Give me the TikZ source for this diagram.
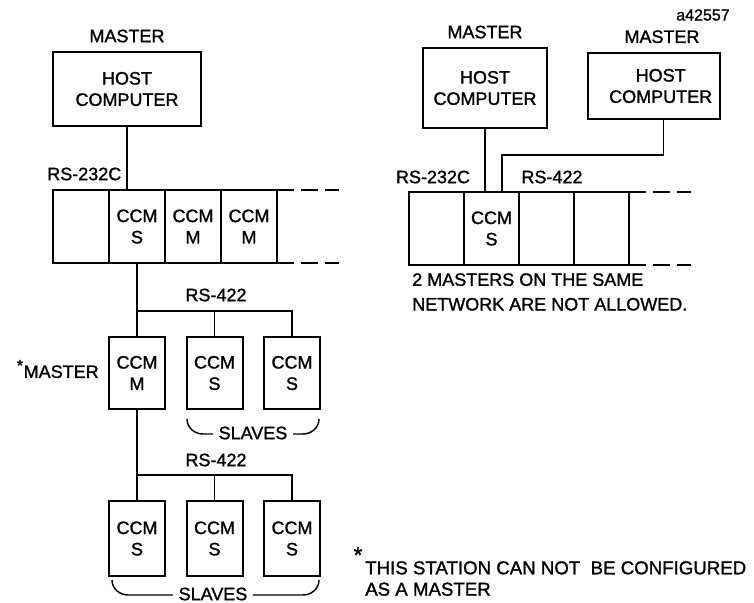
\documentclass[tikz,border=0pt]{standalone}
\usepackage{fontspec}
\setmainfont{Liberation Sans}[FakeBold=1.3]
\usetikzlibrary{positioning, calc}

\tikzset{
    box/.style={draw, line width=1.5pt, align=center, inner sep=0pt, outer sep=0pt},
    slotbox/.style={box, minimum width=42pt, minimum height=54.75pt},
    rslot/.style={box, minimum width=41.25pt, minimum height=54.75pt},
    ccmbox/.style={box, minimum width=42pt, minimum height=#1},
    hostbox/.style={box},
    wire/.style={line width=1.1pt},
    lbl/.style={font=\fontsize{13.5}{16}\selectfont, inner sep=0pt},
    ftxt/.style={font=\fontsize{13.5}{16}\selectfont, align=center}
}

\begin{document}
\begin{tikzpicture}[x=0.75pt, y=-0.75pt]
    \useasboundingbox (0,0) rectangle (754,603);

    % Figure tag
    \node[lbl, font=\fontsize{12}{14}\selectfont] (tag) at (703,15) {a42557};

    % Left: host computer and rack
    \node[hostbox, ftxt, minimum width=111pt, minimum height=55.5pt] (hostL) at (127,89) {HOST\\COMPUTER};
    \node[lbl, above=7pt of hostL] (mstL) {MASTER};
    \foreach \n/\x/\t in {1/81/{}, 2/137/{CCM\\S}, 3/193/{CCM\\M}, 4/249/{CCM\\M}} {
        \node[slotbox, ftxt] (l\n) at (\x,226.5) {\t};
    }
    \draw[wire] (hostL.south) -- (hostL.south |- l1.north);
    \node[lbl, anchor=west] (rs232L) at (47,174) {RS-232C};
    \draw[wire, dash pattern=on 13pt off 5pt] (l4.north east) -- ++(62,0);
    \draw[wire, dash pattern=on 13pt off 5pt] (l4.south east) -- ++(62,0);

    % Sub-network under the CCM S slot
    \node[ccmbox=54pt, ftxt] (mM) at (137,373) {CCM\\M};
    \node[ccmbox=54pt, ftxt] (m2) at (214.5,373) {CCM\\S};
    \node[ccmbox=54pt, ftxt] (m3) at (292,373) {CCM\\S};
    \coordinate (busA) at (137,311);
    \draw[wire] (l2.south) -- (mM.north);
    \draw[wire] (busA) -| (m3.north);
    \draw[wire] (m2.north) -- (m2.north |- busA);
    \node[lbl] (rs422A) at (216,295) {RS-422};
    \node[lbl, anchor=east] (starM) at (99,369) {\textsuperscript{\large *}MASTER};

    \draw[wire] (187,419) to[out=-90, in=180] (203,434) -- (303,434) to[out=0, in=-90] (319,419);
    \node[lbl, fill=white, inner xsep=4pt] (slvA) at (253,433) {SLAVES};

    \node[ccmbox=56pt, ftxt] (b1) at (137,538.5) {CCM\\S};
    \node[ccmbox=56pt, ftxt] (b2) at (214.5,538.5) {CCM\\S};
    \node[ccmbox=56pt, ftxt] (b3) at (292,538.5) {CCM\\S};
    \coordinate (busB) at (137,475);
    \draw[wire] (mM.south) -- (b1.north);
    \draw[wire] (busB) -| (b3.north);
    \draw[wire] (b2.north) -- (b2.north |- busB);
    \node[lbl] (rs422B) at (216,460) {RS-422};

    \draw[wire] (112,580) to[out=-90, in=180] (128,595) -- (303,595) to[out=0, in=-90] (319,580);
    \node[lbl, fill=white, inner xsep=4pt] (slvB) at (213,594) {SLAVES};

    % Right: two masters on one network
    \node[hostbox, ftxt, minimum width=93pt, minimum height=60pt] (hostA) at (485,88) {HOST\\COMPUTER};
    \node[lbl, above=7pt of hostA] (mstA) {MASTER};
    \node[hostbox, ftxt, minimum width=99pt, minimum height=50pt] (hostB) at (654,86) {\hspace*{10pt}HOST\\\hspace*{10pt}COMPUTER};
    \node[lbl, above=7pt of hostB, xshift=6pt] (mstB) {MASTER};
    \foreach \n/\x/\t in {1/436.5/{}, 2/491.5/{CCM\\S}, 3/546.5/{}, 4/601.5/{}} {
        \node[rslot, ftxt] (r\n) at (\x,228.5) {\t};
    }
    \draw[wire] (hostA.south) -- (hostA.south |- r1.north);
    \coordinate (jog) at (502,155);
    \draw[wire] ([xshift=7pt]hostB.south) |- (jog) -- (jog |- r2.north);
    \node[lbl] (rs232R) at (433,177) {RS-232C};
    \node[lbl] (rs422R) at (552,177) {RS-422};
    \draw[wire, dash pattern=on 13pt off 5pt] (r4.north east) -- ++(62,0);
    \draw[wire, dash pattern=on 13pt off 5pt] (r4.south east) -- ++(62,0);
    \node[lbl, anchor=north west, align=left, font=\fontsize{13.5}{18.5}\selectfont] (noteA) at (412,273) {2 MASTERS ON THE SAME\\NETWORK ARE NOT ALLOWED.};

    % Footnote
    \node[lbl, anchor=north west, align=left, font=\fontsize{14}{16}\selectfont] (noteB) at (365,561) {THIS STATION CAN NOT\ \ BE CONFIGURED\\AS A MASTER};
    \node[lbl, font=\fontsize{17}{17}\selectfont] (starB) at (358,555) {*};
\end{tikzpicture}
\end{document}
